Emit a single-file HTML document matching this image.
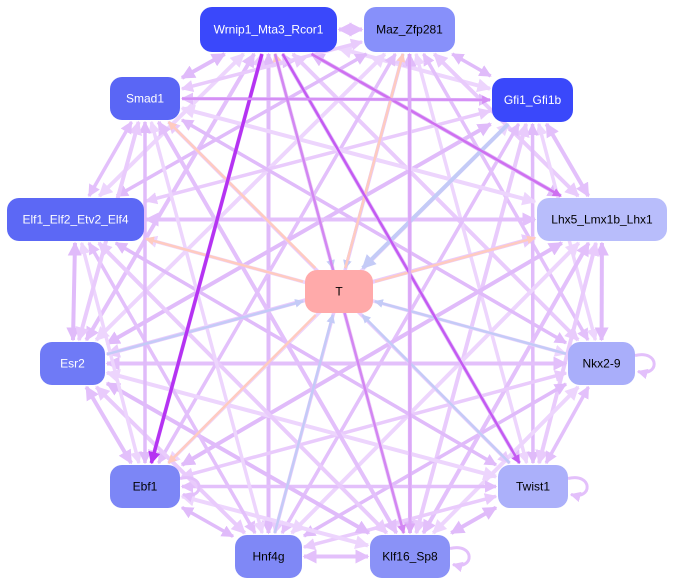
<!DOCTYPE html>
<html><head><meta charset="utf-8">
<style>
html,body{margin:0;padding:0;background:#fff;}
svg{display:block;}
text{font-family:"Liberation Sans",sans-serif;font-size:12px;}
</style></head>
<body>
<svg id="s" width="674" height="587" viewBox="0 0 674 587" xmlns="http://www.w3.org/2000/svg">
<defs id="d"></defs>
<g id="e"></g>
<g id="n"></g>
</svg>
<script>
var N={
 W:[200,7,137,45,'#3a48fb','#fff','Wrnip1_Mta3_Rcor1'],
 M:[364,7,91,45,'#8790fa','#000','Maz_Zfp281'],
 S:[110,77,70,43,'#5a66f5','#fff','Smad1'],
 G:[492,78,81,44,'#3a48fb','#fff','Gfi1_Gfi1b'],
 E:[7,198,137,43,'#5c68f5','#fff','Elf1_Elf2_Etv2_Elf4'],
 L:[537,198,130,43,'#b8bdfb','#000','Lhx5_Lmx1b_Lhx1'],
 T:[305,270,68,43,'#ffaaaa','#000','T'],
 R:[40,342,65,43,'#6f7af6','#fff','Esr2'],
 K:[568,342,67,43,'#a9aefa','#000','Nkx2-9'],
 B:[110,465,70,43,'#7c86f6','#000','Ebf1'],
 X:[498,465,70,43,'#abb0fa','#000','Twist1'],
 H:[235,535,67,43,'#7f88f6','#000','Hnf4g'],
 F:[370,535,80,43,'#8a92f7','#000','Klf16_Sp8']
};
var NS='http://www.w3.org/2000/svg';
var defs=document.getElementById('d'),eg=document.getElementById('e'),ng=document.getElementById('n');
var mk={};
function marker(c){
 if(mk[c])return mk[c];
 var id='m'+Object.keys(mk).length;
 var m=document.createElementNS(NS,'marker');
 m.setAttribute('id',id);m.setAttribute('viewBox','0 0 10 10');m.setAttribute('refX','9');m.setAttribute('refY','5');
 m.setAttribute('markerWidth','3.5');m.setAttribute('markerHeight','3.5');m.setAttribute('orient','auto-start-reverse');
 m.setAttribute('markerUnits','strokeWidth');
 var p=document.createElementNS(NS,'path');p.setAttribute('d','M0,0L10,5L0,10z');p.setAttribute('fill',c);
 m.appendChild(p);defs.appendChild(m);mk[c]=id;return id;
}
function ctr(k){var n=N[k];return [n[0]+n[2]/2,n[1]+n[3]/2];}
function bd(k,dx,dy){var n=N[k];var hw=n[2]/2+2,hh=n[3]/2+2;var t=Math.min(Math.abs(dx)>0?hw/Math.abs(dx):1e9,Math.abs(dy)>0?hh/Math.abs(dy):1e9);return t;}
function edge(a,b,c,w,both){
 var p=ctr(a),q=ctr(b),dx=q[0]-p[0],dy=q[1]-p[1];
 var t1=bd(a,dx,dy),t2=bd(b,dx,dy);
 var l=document.createElementNS(NS,'line');
 l.setAttribute('x1',p[0]+dx*t1);l.setAttribute('y1',p[1]+dy*t1);
 l.setAttribute('x2',q[0]-dx*t2);l.setAttribute('y2',q[1]-dy*t2);
 l.setAttribute('stroke',c);l.setAttribute('stroke-width',w);
 var id=marker(c);l.setAttribute('marker-end','url(#'+id+')');
 if(both)l.setAttribute('marker-start','url(#'+id+')');
 eg.appendChild(l);
}
var outer=['W','M','G','L','K','X','F','H','B','R','E','S'];
var lc=['#e9cbfc','#e3c0fb','#edd5fd','#e0bbfa'];
for(var i=0;i<outer.length;i++)for(var j=i+1;j<outer.length;j++){
 edge(outer[i],outer[j],lc[(i+j)%4],(i*j)%3==0?4:3.5,true);
}
[['W','T'],['M','T'],['R','T'],['K','T'],['X','T'],['H','T']].forEach(function(e){edge(e[0],e[1],'#c4cbf7',2.5);});
edge('G','T','#c4cbf7',4);
[['T','S'],['T','M'],['T','L'],['T','E'],['T','B'],['T','F'],['T','W']].forEach(function(e){edge(e[0],e[1],'#ffcbc0',2.5);});
edge('W','B','#b533f2',3.5);
edge('W','X','#c45af2',2.5);
edge('W','L','#cf70f0',2.5);
edge('S','G','#d590f5',2.5);
edge('M','F','#dca8f7',3);
edge('W','F','#d286f4',2.5);
function loop(k){
 var n=N[k];var p=document.createElementNS(NS,'path');
 var x=n[0]+n[2],y=n[1]+n[3]/2;var d='M'+x+','+(y-8)+' C'+(x+25)+','+(y-14)+' '+(x+25)+','+(y+14)+' '+(x+3)+','+(y+8);
 p.setAttribute('d',d);p.setAttribute('fill','none');p.setAttribute('stroke','#e3c0fb');p.setAttribute('stroke-width',3);
 p.setAttribute('marker-end','url(#'+marker('#e3c0fb')+')');eg.appendChild(p);
}
['K','X','F','B'].forEach(loop);
for(var k in N){var n=N[k];
 var r=document.createElementNS(NS,'rect');r.setAttribute('x',n[0]);r.setAttribute('y',n[1]);r.setAttribute('width',n[2]);r.setAttribute('height',n[3]);
 r.setAttribute('rx',12);r.setAttribute('fill',n[4]);ng.appendChild(r);
 var t=document.createElementNS(NS,'text');t.setAttribute('x',n[0]+n[2]/2);t.setAttribute('y',n[1]+n[3]/2+4);
 t.setAttribute('text-anchor','middle');t.setAttribute('fill',n[5]);t.textContent=n[6];ng.appendChild(t);
}
</script>
</body></html>
